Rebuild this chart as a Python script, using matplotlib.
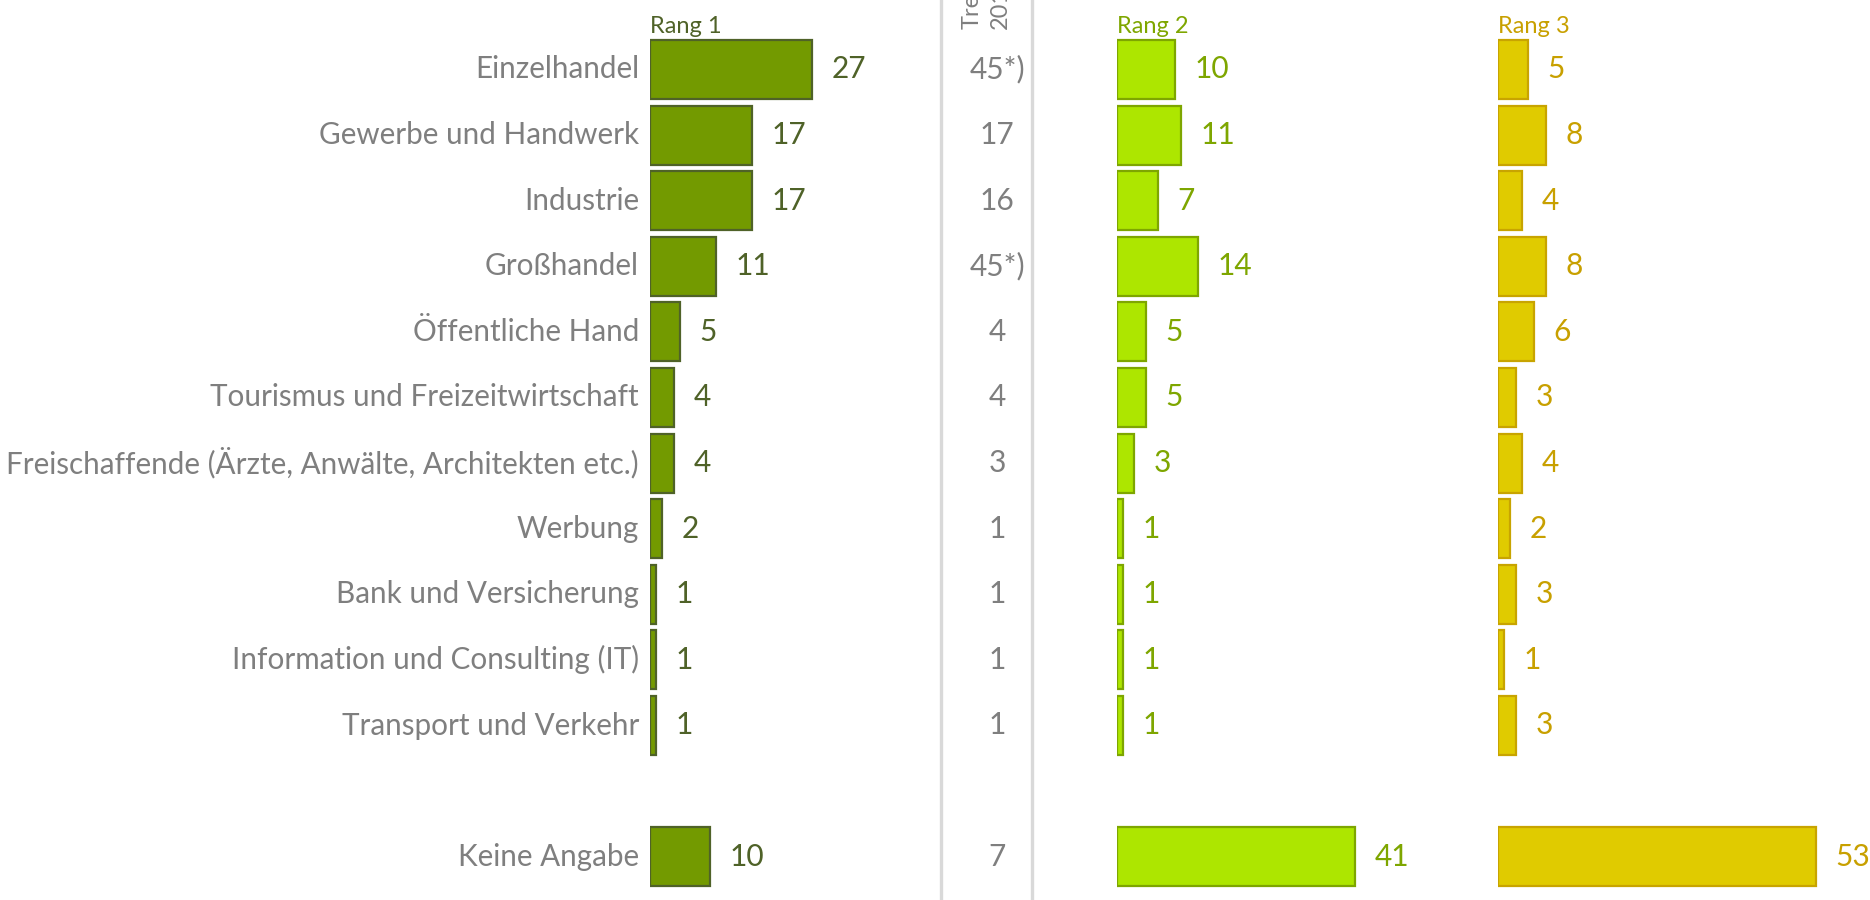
import matplotlib.pyplot as plt
import matplotlib.transforms as mtransforms

plt.rcParams['font.family'] = ['Lato', 'DejaVu Sans']

# Data
categories = ['Einzelhandel', 'Gewerbe und Handwerk', 'Industrie', 'Großhandel',
              'Öffentliche Hand', 'Tourismus und Freizeitwirtschaft',
              'Freischaffende (Ärzte, Anwälte, Architekten etc.)', 'Werbung',
              'Bank und Versicherung', 'Information und Consulting (IT)',
              'Transport und Verkehr', 'Keine Angabe']
rang1 = [27, 17, 17, 11, 5, 4, 4, 2, 1, 1, 1, 10]
trend = ['45*)', '17', '16', '45*)', '4', '4', '3', '1', '1', '1', '1', '7']
rang2 = [10, 11, 7, 14, 5, 5, 3, 1, 1, 1, 1, 41]
rang3 = [5, 8, 4, 8, 6, 3, 4, 2, 3, 1, 3, 53]
panel_titles = ['Rang 1', 'Rang 2', 'Rang 3']
trend_title = 'Trend\n2017'

# row positions: gap of one row before "Keine Angabe"
ypos = list(range(11)) + [12]

W, H = 1870, 900
fig = plt.figure(figsize=(W / 100, H / 100), dpi=100)

row_px = 65.6
first_row_px = 69.5
y_top = -first_row_px / row_px
y_bot = (H - first_row_px) / row_px

panels = [
    # left px, width px, px per unit, series, fill, edge, text colour
    (650, 260, 6.0, rang1, '#739a00', '#4f6228', '#4f6228'),
    (1117, 330, 5.8, rang2, '#ade600', '#7ea600', '#7ea600'),
    (1498, 372, 6.0, rang3, '#e0cb00', '#c8a400', '#c8a000'),
]

label_fs = 21.5
cat_fs = 21.3
head_fs = 17

axes = []
for (left, width, ppu, vals, fc, ec, tc), title in zip(panels, panel_titles):
    ax = fig.add_axes([left / W, 0, width / W, 1])
    ax.barh(ypos, vals, height=0.9, color=fc, edgecolor=ec, linewidth=1.6)
    ax.set_xlim(0, width / ppu)
    ax.set_ylim(y_bot, y_top)
    for y, v in zip(ypos, vals):
        ax.annotate(str(v), xy=(v, y), xytext=(14, 0), textcoords='offset points',
                    ha='left', va='center', fontsize=label_fs, color=tc)
    ax.text(0, -0.56, title, ha='left', va='baseline', fontsize=head_fs, color=tc)
    ax.axis('off')
    axes.append(ax)

# category labels left of the first panel
ax1 = axes[0]
for y, cat in zip(ypos, categories):
    ax1.annotate(cat, xy=(0, y), xytext=(-8, 0), textcoords='offset points',
                 ha='right', va='center', fontsize=cat_fs, color='#7f7f7f')

# trend column between the grey separators
trans = mtransforms.blended_transform_factory(fig.transFigure, ax1.transData)
for y, t in zip(ypos, trend):
    ax1.text(997 / W, y, t, transform=trans, ha='center', va='center',
             fontsize=label_fs, color='#7f7f7f', clip_on=False)
fig.text(986 / W, 1 - 29 / H, trend_title, rotation=90, ha='center', va='bottom',
         multialignment='left', fontsize=head_fs, color='#7f7f7f', linespacing=1.4)

# grey separator lines
for x in (941, 1032):
    fig.add_artist(plt.Line2D([x / W, x / W], [0, 1], transform=fig.transFigure,
                              color='#d9d9d9', linewidth=2.4))

fig.savefig('out.png', dpi=100)
